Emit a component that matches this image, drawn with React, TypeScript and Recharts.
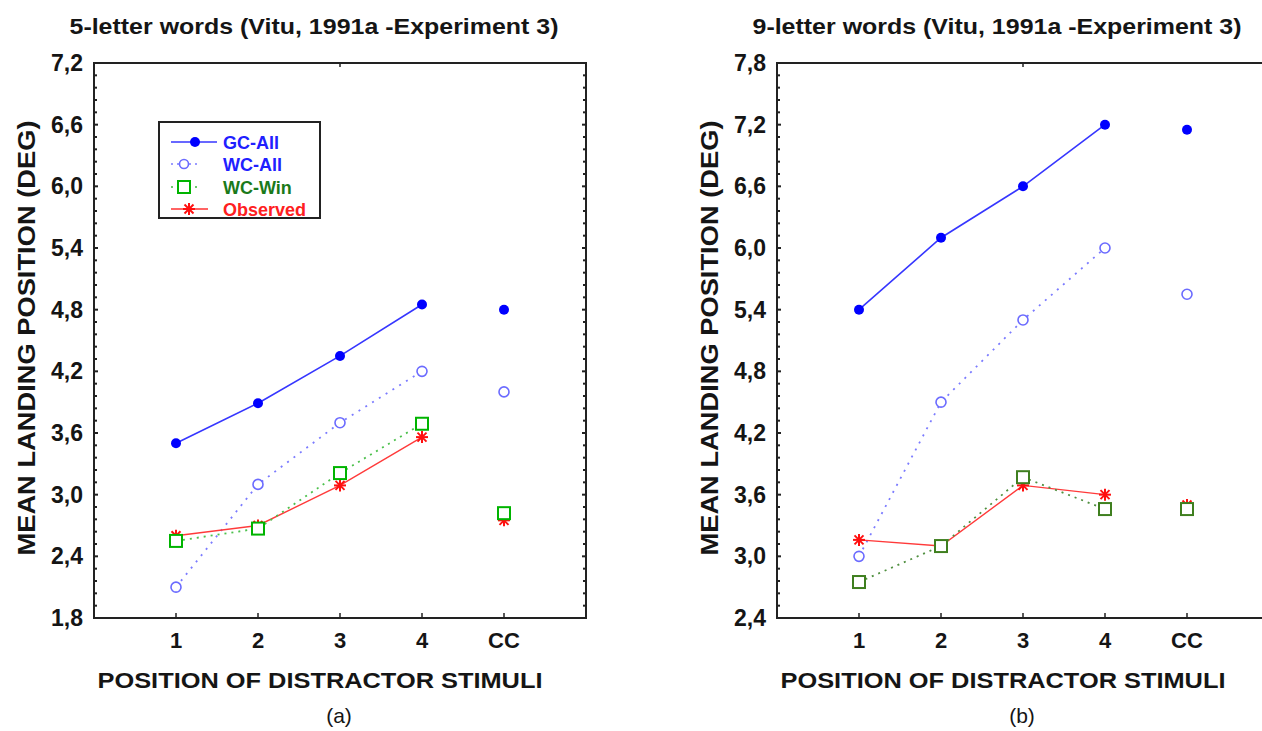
import React from 'react';
import { LineChart, Line, XAxis, YAxis, ReferenceArea } from 'recharts';

const categories = ['1', '2', '3', '4', 'CC'];

// (a) 5-letter words
const gcAll5 = [3.5, 3.89, 4.35, 4.85, 4.8];
const wcAll5 = [2.1, 3.1, 3.7, 4.2, 4.0];
const wcWin5 = [2.55, 2.67, 3.21, 3.69, 2.82];
const observed5 = [2.6, 2.7, 3.09, 3.56, 2.75];
const yTicks5 = [1.8, 2.4, 3.0, 3.6, 4.2, 4.8, 5.4, 6.0, 6.6, 7.2];

// (b) 9-letter words
const gcAll9 = [5.4, 6.1, 6.6, 7.2, 7.15];
const wcAll9 = [3.0, 4.5, 5.3, 6.0, 5.55];
const wcWin9 = [2.75, 3.1, 3.77, 3.46, 3.46];
const observed9 = [3.16, 3.1, 3.69, 3.6, 3.5];
const yTicks9 = [2.4, 3.0, 3.6, 4.2, 4.8, 5.4, 6.0, 6.6, 7.2, 7.8];

const FONT = '"Liberation Sans", Arial, Helvetica, sans-serif';
const INK = '#151515';
const PLOT_W = 492;

// the CC point is not joined to the others, so it gets its own key
const buildRows = (gc: number[], wc: number[], win: number[], obs: number[]) =>
  categories.map((_, i) => {
    const last = i === categories.length - 1;
    return {
      x: i + 1,
      gc: last ? null : gc[i],
      gcCC: last ? gc[i] : null,
      wc: last ? null : wc[i],
      wcCC: last ? wc[i] : null,
      win: last ? null : win[i],
      winCC: last ? win[i] : null,
      obs: last ? null : obs[i],
      obsCC: last ? obs[i] : null,
    };
  });

const filledDot = (color: string) => (p: any) =>
  p.cy == null ? <g key={p.index} /> : <circle key={p.index} cx={p.cx} cy={p.cy} r={5} fill={color} />;

const openDot = (color: string) => (p: any) =>
  p.cy == null ? <g key={p.index} /> : (
    <circle key={p.index} cx={p.cx} cy={p.cy} r={5} fill="#fff" stroke={color} strokeWidth={1.6} />
  );

const squareDot = (color: string) => (p: any) =>
  p.cy == null ? <g key={p.index} /> : (
    <rect key={p.index} x={p.cx - 6} y={p.cy - 6} width={12} height={12} fill="#fff" stroke={color} strokeWidth={2} />
  );

const Asterisk = ({ cx, cy, color }: { cx: number; cy: number; color: string }) => (
  <g stroke={color} strokeWidth={2}>
    <line x1={cx - 6} y1={cy} x2={cx + 6} y2={cy} />
    <line x1={cx} y1={cy - 6} x2={cx} y2={cy + 6} />
    <line x1={cx - 4.5} y1={cy - 4.5} x2={cx + 4.5} y2={cy + 4.5} />
    <line x1={cx - 4.5} y1={cy + 4.5} x2={cx + 4.5} y2={cy - 4.5} />
  </g>
);

const starDot = (color: string) => (p: any) =>
  p.cy == null ? <g key={p.index} /> : (
    <g key={p.index}>
      <Asterisk cx={p.cx} cy={p.cy} color={color} />
    </g>
  );

// every 0.12 step gets a small inward mark on both sides; every 0.6 also a label
const makeYTick = (lo: number) => (p: any) => {
  const v = p.payload.value;
  const k = (v - lo) / 0.6;
  const major = Math.abs(k - Math.round(k)) < 1e-6;
  const len = major ? 4 : 3;
  return (
    <g>
      <line x1={p.x} y1={p.y} x2={p.x + len} y2={p.y} stroke="#222" strokeWidth={2} />
      <line x1={p.x + PLOT_W} y1={p.y} x2={p.x + PLOT_W - len} y2={p.y} stroke="#222" strokeWidth={2} />
      {major ? (
        <text x={p.x - 11} y={p.y + 8} textAnchor="end" fontFamily={FONT} fontSize={23} fontWeight="bold" fill={INK}>
          {v.toFixed(1).replace('.', ',')}
        </text>
      ) : null}
    </g>
  );
};

// label below the axis plus a short tick pointing into the plot
const XTick = (p: any) => (
  <g>
    <line x1={p.x} y1={p.y} x2={p.x} y2={p.y - 5} stroke="#222" strokeWidth={1.5} />
    <text x={p.x} y={p.y + 30} textAnchor="middle" fontFamily={FONT} fontSize={22} fontWeight="bold" fill={INK}>
      {categories[p.payload.value - 1]}
    </text>
  </g>
);

const Legend = () => {
  const rows = [
    { y: 142, text: 'GC-All', color: '#2020ff' },
    { y: 164, text: 'WC-All', color: '#2020ff' },
    { y: 187, text: 'WC-Win', color: '#1a7a1a' },
    { y: 209, text: 'Observed', color: '#ff2020' },
  ];
  return (
    <g>
      <rect x={159} y={122} width={161} height={96} fill="#fff" stroke="#222" strokeWidth={2} />
      <line x1={171} y1={142} x2={217} y2={142} stroke="#3636ff" strokeWidth={1.6} />
      <circle cx={195} cy={142} r={5} fill="#0000ff" />
      <line x1={171} y1={164} x2={198} y2={164} stroke="#7b7bff" strokeWidth={1.6} strokeDasharray="2 4" />
      <circle cx={184} cy={164} r={4.5} fill="#fff" stroke="#6b6bff" strokeWidth={1.6} />
      <line x1={171} y1={187} x2={199} y2={187} stroke="#3cb83c" strokeWidth={1.6} strokeDasharray="2 4" />
      <rect x={178} y={181} width={12} height={12} fill="#fff" stroke="#00b400" strokeWidth={2} />
      <line x1={171} y1={209} x2={208} y2={209} stroke="#ff3030" strokeWidth={1.6} />
      <Asterisk cx={189} cy={209} color="#ff1010" />
      {rows.map((r) => (
        <text key={r.text} x={223} y={r.y + 7} fontFamily={FONT} fontSize={18} fontWeight="bold" fill={r.color}>
          {r.text}
        </text>
      ))}
    </g>
  );
};

type PanelProps = {
  left: number;
  title: string;
  tag: string;
  rows: any[];
  yTicks: number[];
  winColor: string;
  winLine: string;
  showLegend?: boolean;
};

const Panel = ({ left, title, tag, rows, yTicks, winColor, winLine, showLegend }: PanelProps) => {
  const lo = yTicks[0];
  const hi = yTicks[yTicks.length - 1];
  const minor = Array.from({ length: 46 }, (_, i) => +(lo + i * 0.12).toFixed(2));
  const xTicks = categories.map((_, i) => i + 1);
  const yTick = makeYTick(lo);
  return (
    <div style={{ position: 'absolute', left, top: 0 }}>
      <LineChart width={640} height={731} data={rows} margin={{ top: 63, right: 54, bottom: 73, left: 34 }}>
        <XAxis
          type="number"
          dataKey="x"
          domain={[0, 6]}
          ticks={xTicks}
          interval={0}
          height={40}
          tickSize={0}
          tickMargin={0}
          tickLine={false}
          axisLine={{ stroke: '#222', strokeWidth: 2 }}
          tick={(p: any) => <XTick {...p} />}
        />
        <YAxis
          type="number"
          domain={[lo, hi]}
          ticks={minor}
          interval={0}
          width={60}
          tickSize={0}
          tickMargin={0}
          tickLine={false}
          axisLine={{ stroke: '#222', strokeWidth: 2 }}
          tick={yTick}
        />
        <ReferenceArea x1={0} x2={6} y1={lo} y2={hi} fill="none" stroke="#222" strokeWidth={2} ifOverflow="visible" />

        <Line dataKey="gc" stroke="#3636ff" strokeWidth={1.6} dot={filledDot('#0000ff')} activeDot={false} legendType="none" isAnimationActive={false} />
        <Line dataKey="gcCC" stroke="none" dot={filledDot('#0000ff')} activeDot={false} legendType="none" isAnimationActive={false} />
        <Line dataKey="wc" stroke="#7b7bff" strokeWidth={1.8} strokeDasharray="2 6" dot={openDot('#6b6bff')} activeDot={false} legendType="none" isAnimationActive={false} />
        <Line dataKey="wcCC" stroke="none" dot={openDot('#6b6bff')} activeDot={false} legendType="none" isAnimationActive={false} />
        <Line dataKey="obs" stroke="#ff3a3a" strokeWidth={1.4} dot={starDot('#ff1010')} activeDot={false} legendType="none" isAnimationActive={false} />
        <Line dataKey="obsCC" stroke="none" dot={starDot('#ff1010')} activeDot={false} legendType="none" isAnimationActive={false} />
        <Line dataKey="win" stroke={winLine} strokeWidth={1.8} strokeDasharray="2 5" dot={squareDot(winColor)} activeDot={false} legendType="none" isAnimationActive={false} />
        <Line dataKey="winCC" stroke="none" dot={squareDot(winColor)} activeDot={false} legendType="none" isAnimationActive={false} />

        <line x1={340} y1={63} x2={340} y2={67} stroke="#222" strokeWidth={1.5} />
        <text x={314} y={34} textAnchor="middle" fontFamily={FONT} fontSize={22} fontWeight="bold" fill={INK} textLength={489} lengthAdjust="spacingAndGlyphs">
          {title}
        </text>
        <text x={35} y={338} transform="rotate(-90, 35, 338)" textAnchor="middle" fontFamily={FONT} fontSize={24} fontWeight="bold" fill={INK} textLength={435} lengthAdjust="spacingAndGlyphs">
          MEAN LANDING POSITION (DEG)
        </text>
        <text x={320} y={688} textAnchor="middle" fontFamily={FONT} fontSize={22} fontWeight="bold" fill={INK} textLength={445} lengthAdjust="spacingAndGlyphs">
          POSITION OF DISTRACTOR STIMULI
        </text>
        <text x={339} y={723} textAnchor="middle" fontFamily={FONT} fontSize={21} fill={INK}>
          {tag}
        </text>
        {showLegend ? <Legend /> : null}
      </LineChart>
    </div>
  );
};

export default function App() {
  const rows5 = buildRows(gcAll5, wcAll5, wcWin5, observed5);
  const rows9 = buildRows(gcAll9, wcAll9, wcWin9, observed9);
  return (
    <>
      <style>{'html, body { margin: 0; padding: 0; overflow: hidden; }'}</style>
      <div style={{ position: 'relative', width: 1262, height: 731, overflow: 'hidden', background: '#fff' }}>
        <Panel
          left={0}
          title="5-letter words (Vitu, 1991a -Experiment 3)"
          tag="(a)"
          rows={rows5}
          yTicks={yTicks5}
          winColor="#00b400"
          winLine="#4cc04c"
          showLegend
        />
        <Panel
          left={683}
          title="9-letter words (Vitu, 1991a -Experiment 3)"
          tag="(b)"
          rows={rows9}
          yTicks={yTicks9}
          winColor="#3f7f1f"
          winLine="#4f8f3f"
        />
      </div>
    </>
  );
}
